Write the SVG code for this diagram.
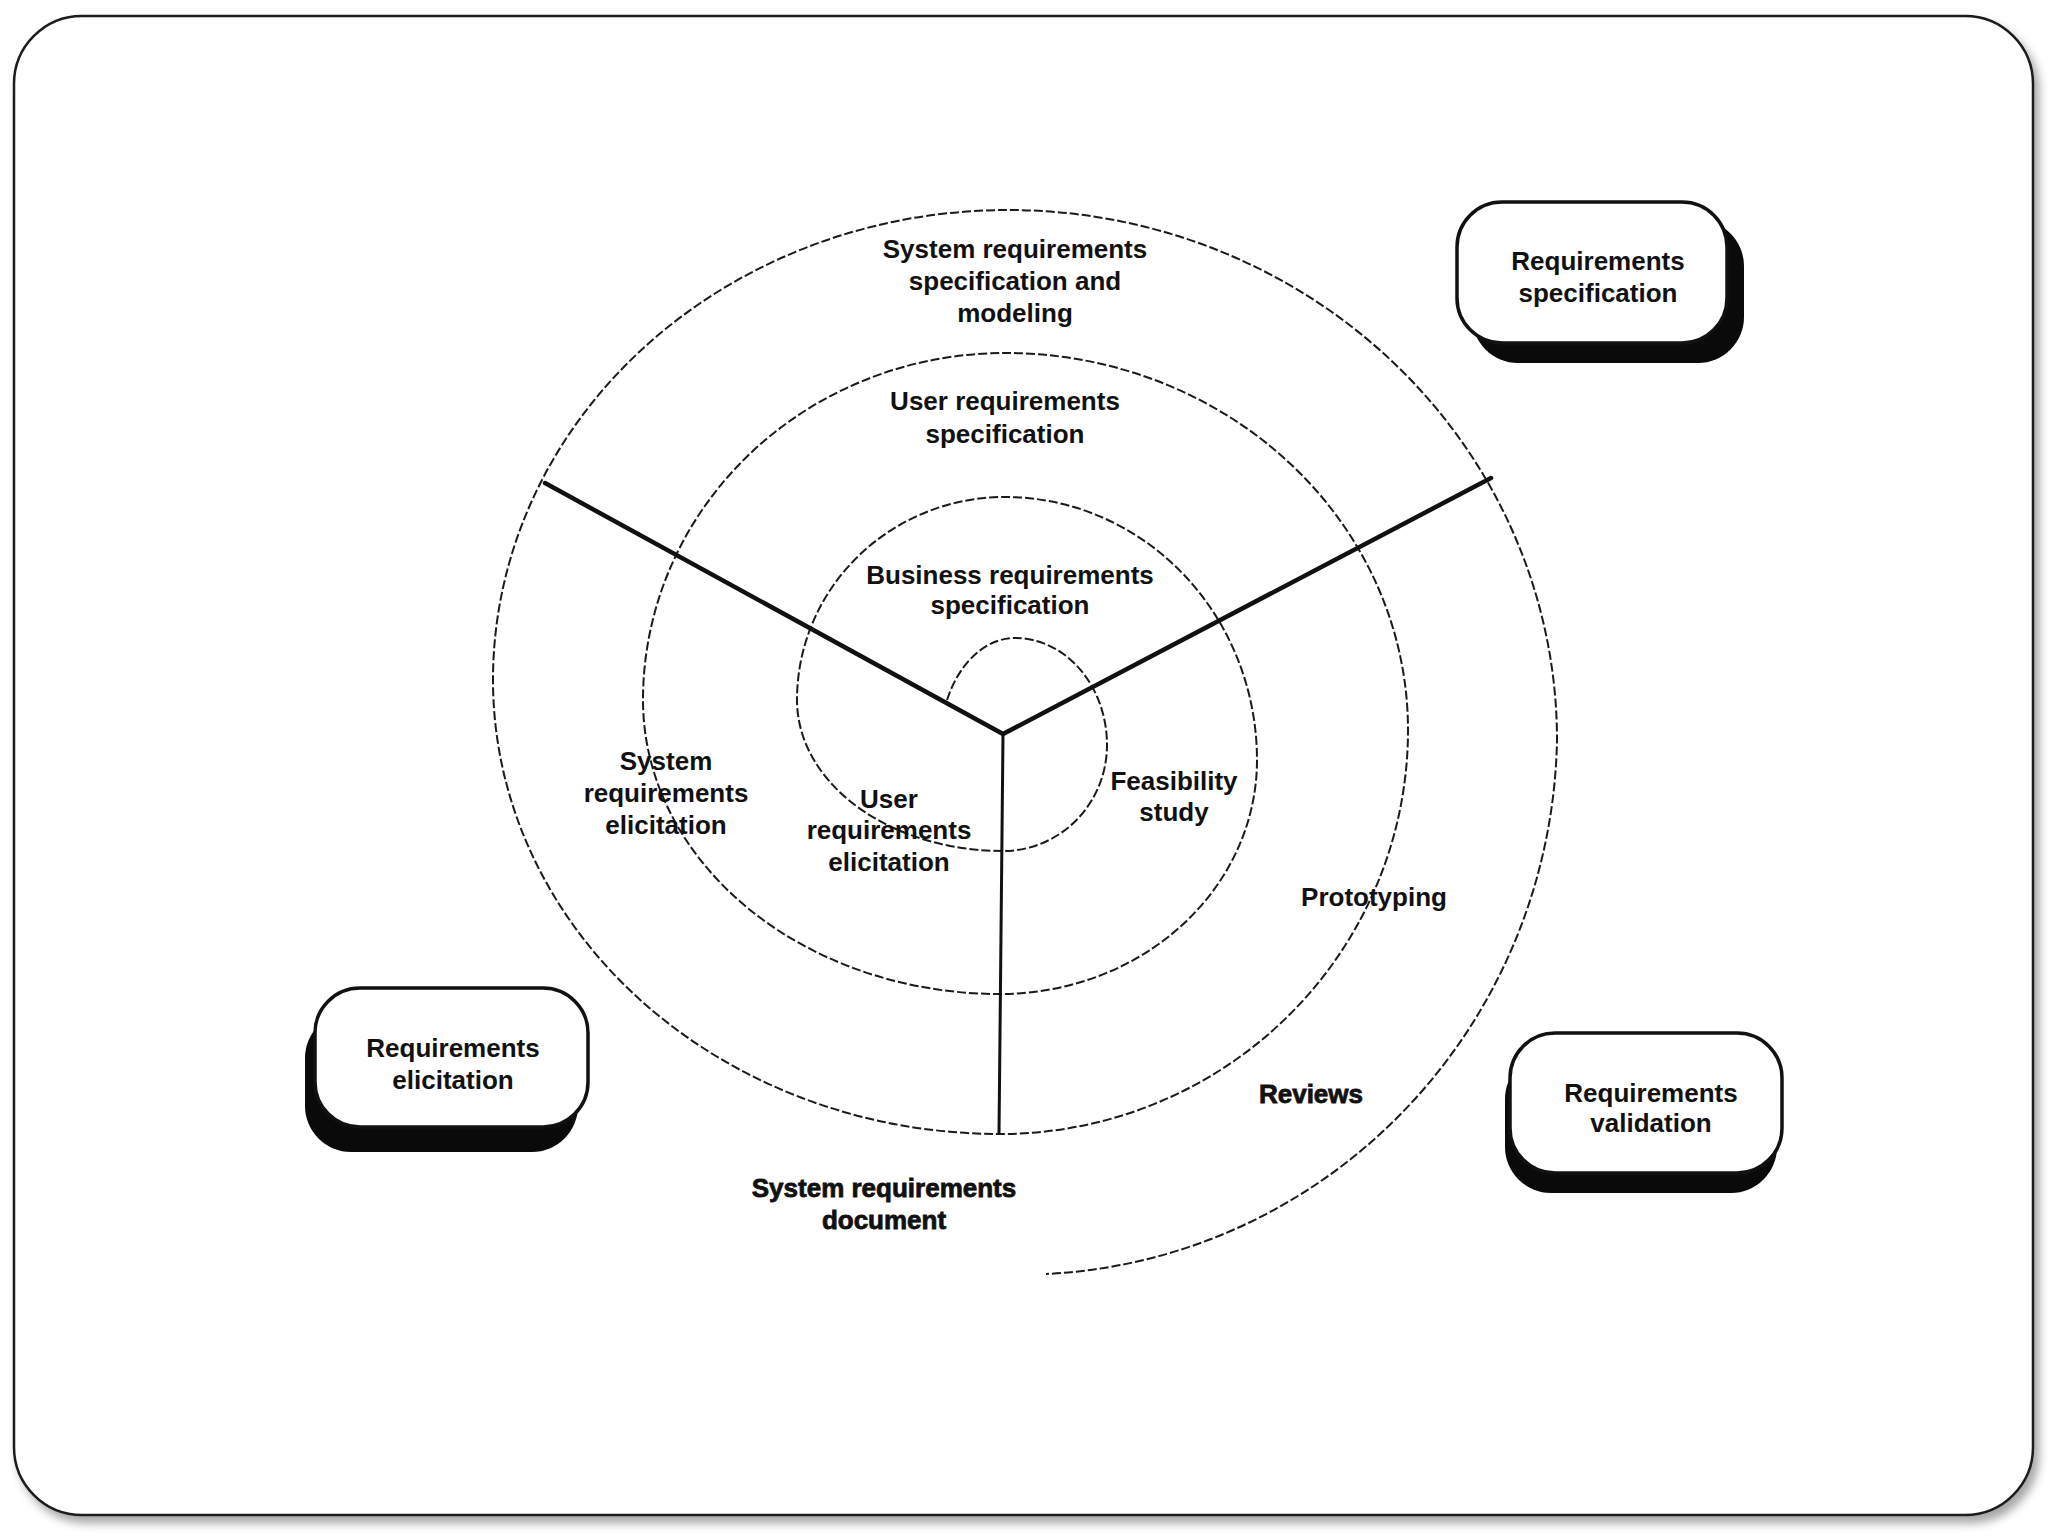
<svg xmlns="http://www.w3.org/2000/svg" width="2048" height="1536" viewBox="0 0 2048 1536">
  <defs>
    <filter id="frameShadow" x="-5%" y="-5%" width="110%" height="110%">
      <feDropShadow dx="5" dy="7" stdDeviation="5" flood-color="#000" flood-opacity="0.35"/>
    </filter>
    <style>
      .frame { fill: #ffffff; stroke: #1a1a1a; stroke-width: 2.5; }
      .spiral { fill: none; stroke: #1a1a1a; stroke-width: 2; stroke-dasharray: 9 3; }
      .arm { fill: none; stroke: #111; stroke-width: 4.5; stroke-linecap: round; stroke-linejoin: round; }
      .stem { fill: none; stroke: #111; stroke-width: 3; }
      .lbl { font-family: "Liberation Sans", Arial, sans-serif; font-weight: bold; font-size: 26px; fill: #111; text-anchor: middle; }
      .heavy { stroke: #111; stroke-width: 0.8; }
      .box { fill: #ffffff; stroke: #111; stroke-width: 3.5; }
      .boxShadow { fill: #0a0a0a; }
    </style>
  </defs>

  <rect x="0" y="0" width="2048" height="1536" fill="#ffffff"/>
  <rect class="frame" x="14" y="16" width="2019" height="1499" rx="68" ry="68" filter="url(#frameShadow)"/>

  <g id="connectors">
    <path class="spiral" d="M 947 700
      A 75 107 0 0 1 1015 638
      A 92 107 0 0 1 1107 745
      A 104 106 0 0 1 1003 851
      A 206 151 0 0 1 797 700
      A 208 203 0 0 1 1005 497
      A 252 263 0 0 1 1257 760
      A 257 234 0 0 1 1000 994
      A 357 294 0 0 1 643 700
      A 362 347 0 0 1 1005 353
      A 403 377 0 0 1 1408 730
      A 408 404 0 0 1 1000 1134
      A 507 454 0 0 1 493 680
      A 515 470 0 0 1 1008 210
      A 549 530 0 0 1 1557 740
      A 537 545 0 0 1 1046 1274"/>
    <polyline class="arm" points="545,483 1003,734 1491,478"/>
    <line class="stem" x1="1003" y1="734" x2="999" y2="1134"/>
  </g>

  <g id="label-system-spec">
    <text class="lbl" x="1015" y="258">System requirements</text>
    <text class="lbl" x="1015" y="290">specification and</text>
    <text class="lbl" x="1015" y="322">modeling</text>
  </g>
  <g id="label-user-spec">
    <text class="lbl" x="1005" y="410">User requirements</text>
    <text class="lbl" x="1005" y="443">specification</text>
  </g>
  <g id="label-business-spec">
    <text class="lbl" x="1010" y="584">Business requirements</text>
    <text class="lbl" x="1010" y="614">specification</text>
  </g>
  <g id="label-system-elicitation">
    <text class="lbl" x="666" y="770">System</text>
    <text class="lbl" x="666" y="802">requirements</text>
    <text class="lbl" x="666" y="834">elicitation</text>
  </g>
  <g id="label-user-elicitation">
    <text class="lbl" x="889" y="808">User</text>
    <text class="lbl" x="889" y="839">requirements</text>
    <text class="lbl" x="889" y="871">elicitation</text>
  </g>
  <g id="label-feasibility">
    <text class="lbl" x="1174" y="790">Feasibility</text>
    <text class="lbl" x="1174" y="821">study</text>
  </g>
  <g id="label-prototyping">
    <text class="lbl" x="1374" y="906">Prototyping</text>
  </g>
  <g id="label-reviews">
    <text class="lbl heavy" x="1311" y="1103">Reviews</text>
  </g>
  <g id="label-system-document">
    <text class="lbl heavy" x="884" y="1197">System requirements</text>
    <text class="lbl heavy" x="884" y="1229">document</text>
  </g>

  <g id="node-requirements-specification">
    <rect class="boxShadow" x="1472" y="220" width="272" height="143" rx="46" ry="46"/>
    <rect class="box" x="1457" y="202" width="270" height="141" rx="45" ry="45"/>
    <text class="lbl" x="1598" y="270">Requirements</text>
    <text class="lbl" x="1598" y="302">specification</text>
  </g>
  <g id="node-requirements-elicitation">
    <rect class="boxShadow" x="305" y="1012" width="273" height="140" rx="46" ry="46"/>
    <rect class="box" x="315" y="988" width="273" height="139" rx="45" ry="45"/>
    <text class="lbl" x="453" y="1057">Requirements</text>
    <text class="lbl" x="453" y="1089">elicitation</text>
  </g>
  <g id="node-requirements-validation">
    <rect class="boxShadow" x="1505" y="1053" width="272" height="140" rx="46" ry="46"/>
    <rect class="box" x="1510" y="1033" width="272" height="140" rx="45" ry="45"/>
    <text class="lbl" x="1651" y="1102">Requirements</text>
    <text class="lbl" x="1651" y="1132">validation</text>
  </g>
</svg>
